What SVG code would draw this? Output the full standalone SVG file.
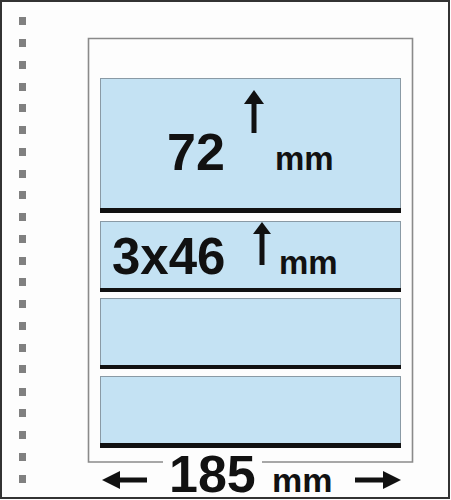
<svg xmlns="http://www.w3.org/2000/svg" width="451" height="500" viewBox="0 0 451 500">
<defs>
<style>
.dot{fill:#808080}
.page{fill:none;stroke:#8a8a8a;stroke-width:1.6}
.pocket{fill:#c4e2f3;stroke:#8a9aa5;stroke-width:1}
.bar{fill:#111}
.big{font-family:"Liberation Sans",Arial,sans-serif;font-weight:bold;fill:#111}
.arr{stroke:#111;stroke-width:5;fill:none}
.head{fill:#111}
</style>
</defs>
<rect x="0" y="0" width="451" height="500" fill="#fdfdfd"/>
<rect x="1" y="1" width="448" height="497" fill="none" stroke="#333" stroke-width="2"/>
<g id="holes">
<rect class="dot" x="19" y="17" width="7" height="8"/>
<rect class="dot" x="19" y="39" width="7" height="8"/>
<rect class="dot" x="19" y="61" width="7" height="8"/>
<rect class="dot" x="19" y="83" width="7" height="8"/>
<rect class="dot" x="19" y="104" width="7" height="8"/>
<rect class="dot" x="19" y="126" width="7" height="8"/>
<rect class="dot" x="19" y="148" width="7" height="8"/>
<rect class="dot" x="19" y="170" width="7" height="8"/>
<rect class="dot" x="19" y="191" width="7" height="8"/>
<rect class="dot" x="19" y="213" width="7" height="8"/>
<rect class="dot" x="19" y="235" width="7" height="8"/>
<rect class="dot" x="19" y="257" width="7" height="8"/>
<rect class="dot" x="19" y="278" width="7" height="8"/>
<rect class="dot" x="19" y="300" width="7" height="8"/>
<rect class="dot" x="19" y="322" width="7" height="8"/>
<rect class="dot" x="19" y="344" width="7" height="8"/>
<rect class="dot" x="19" y="365" width="7" height="8"/>
<rect class="dot" x="19" y="388" width="7" height="8"/>
<rect class="dot" x="19" y="409" width="7" height="8"/>
<rect class="dot" x="19" y="431" width="7" height="8"/>
<rect class="dot" x="19" y="453" width="7" height="8"/>
<rect class="dot" x="19" y="475" width="7" height="8"/>
</g>
<g id="page">
<path class="page" d="M163,462 H88.5 V38.5 H412.5 V462 H262"/>
</g>
<g id="pocket1">
<rect class="pocket" x="100.5" y="78.5" width="300" height="131"/>
<rect class="bar" x="100" y="208" width="301" height="5"/>
<text class="big" x="167" y="170" font-size="52">72</text>
<text class="big" x="275" y="170" font-size="33">mm</text>
</g>
<g id="pocket2">
<rect class="pocket" x="100.5" y="221.5" width="300" height="67"/>
<rect class="bar" x="100" y="288" width="301" height="4"/>
<text class="big" x="112" y="274" font-size="51">3x46</text>
<text class="big" x="279" y="274" font-size="33">mm</text>
</g>
<g id="pocket3">
<rect class="pocket" x="100.5" y="298.5" width="300" height="67"/>
<rect class="bar" x="100" y="365" width="301" height="4"/>
</g>
<g id="pocket4">
<rect class="pocket" x="100.5" y="376.5" width="300" height="67"/>
<rect class="bar" x="100" y="443" width="301" height="5"/>
</g>
<g id="width-label">
<text class="big" x="169" y="492" font-size="52">185</text>
<text class="big" x="272" y="492" font-size="34">mm</text>
</g>
<g id="connectors">
<line class="arr" x1="254" y1="100" x2="254" y2="133"/>
<polygon class="head" points="254,90 244,104 264,104"/>
<line class="arr" x1="262" y1="230" x2="262" y2="265"/>
<polygon class="head" points="262,222 253,234 271,234"/>
<line class="arr" x1="115" y1="480" x2="147" y2="480"/>
<polygon class="head" points="102,480 120,471 120,489"/>
<line class="arr" x1="355" y1="480" x2="388" y2="480"/>
<polygon class="head" points="401,480 383,471 383,489"/>
</g>
</svg>
